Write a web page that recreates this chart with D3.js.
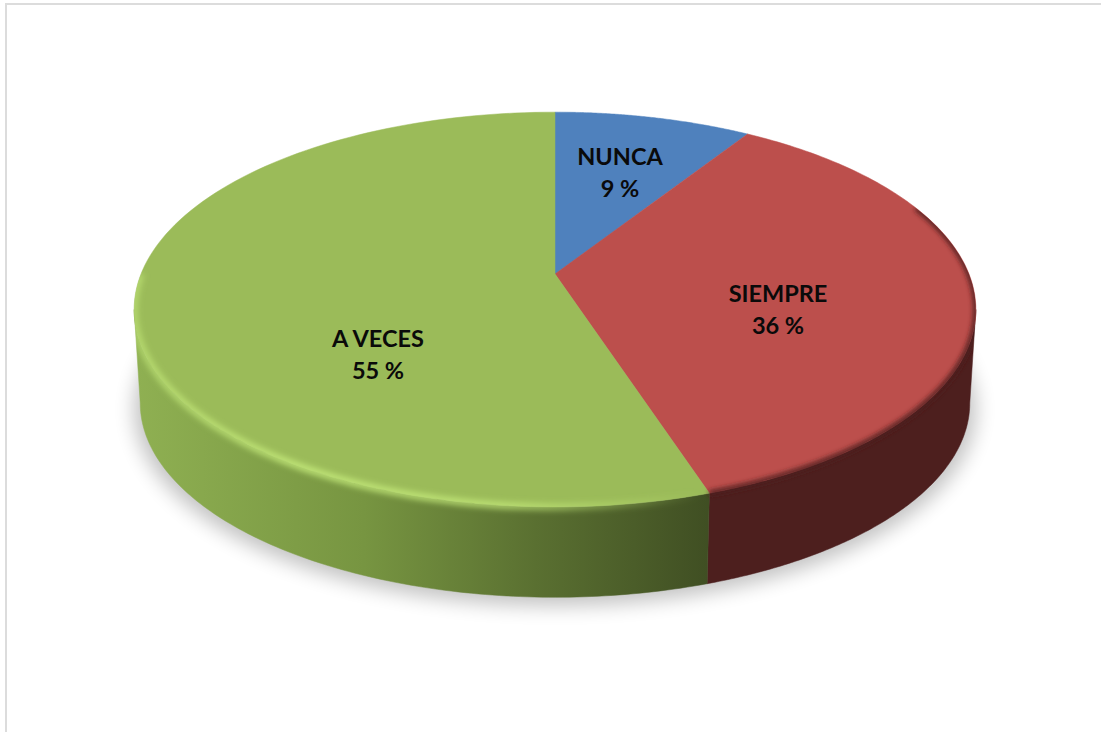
<!DOCTYPE html>
<html lang="es">

<head>
    <meta charset="utf-8">
    <style>
        html, body { margin: 0; background: #fff; overflow: hidden; }
        text { font-family: Lato, 'Open Sans', sans-serif; font-weight: 700; font-size: 23.5px; fill: #0a0a0a; text-anchor: middle; }
    </style>
</head>

<body>
    <script src="https://d3js.org/d3.v7.min.js"></script>
    <script>
        // data
        const categories = ['NUNCA', 'SIEMPRE', 'A VECES'];
        const percents = [9, 36, 55];
        const percentLabels = ['9 %', '36 %', '55 %'];

        // look
        const topColors = ['#4f81bd', '#bc4f4c', '#9bbb59'];
        const labelSpots = [[620, 165], [778, 302], [378, 347]];
        const width = 1101, height = 732;

        const svg = d3.select('body').append('svg')
            .attr('width', width).attr('height', height)
            .style('display', 'block');

        const defs = svg.append('defs');
        [['soft', 2.4], ['softer', 3], ['shadowBlur', 10]].forEach(([id, dev]) => {
            defs.append('filter').attr('id', id)
                .attr('x', '-20%').attr('y', '-20%').attr('width', '140%').attr('height', '140%')
                .append('feGaussianBlur').attr('stdDeviation', dev);
        });

        const wallGreen = defs.append('linearGradient').attr('id', 'wallGreen')
            .attr('gradientUnits', 'userSpaceOnUse')
            .attr('x1', 135).attr('x2', 707).attr('y1', 0).attr('y2', 0);
        [[0, '#8fb052'], [0.4, '#779541'], [0.7, '#5a7031'], [1, '#404f23']].forEach(([o, c]) => {
            wallGreen.append('stop').attr('offset', o).attr('stop-color', c);
        });

        const glowGreen = defs.append('linearGradient').attr('id', 'glowGreen')
            .attr('gradientUnits', 'userSpaceOnUse')
            .attr('x1', 134).attr('x2', 700).attr('y1', 0).attr('y2', 0);
        [[0, 0.7], [0.3, 1], [0.65, 0.9], [1, 0]].forEach(([o, a]) => {
            glowGreen.append('stop').attr('offset', o)
                .attr('stop-color', '#c6ec7c').attr('stop-opacity', a);
        });

        // frame of the chart area
        svg.append('path')
            .attr('d', `M6,${height}V4H${width}`)
            .attr('fill', 'none').attr('stroke', '#dcdcdc').attr('stroke-width', 2);

        // the pie is tilted with a bit of perspective, so the apex is not the ellipse centre
        const tilt = 0.18;
        function rim(cx, cy, scaleX, scaleY) {
            return (a, r = 1) => {
                const u = Math.sin(a) * r, v = -Math.cos(a) * r;
                const w = 1 - tilt * v;
                return [cx + scaleX * u / w, cy + scaleY * v / w];
            };
        }
        const topRim = rim(555, 274, 414, 191);
        const lowRim = rim(555, 368, 408, 188);

        const arcPoints = (proj, a0, a1) => d3.range(0, 121).map(i => proj(a0 + (a1 - a0) * i / 120));
        const line = d3.line();

        const slices = d3.pie().sort(null)(percents);

        // angles where the outline of the tilted disc turns, the wall is seen between them
        const wallFrom = Math.acos(-tilt);
        const wallTo = 2 * Math.PI - wallFrom;

        // floor shadow
        svg.append('path')
            .attr('d', line(arcPoints(rim(555, 374, 414, 190), 0, 2 * Math.PI)) + 'Z')
            .attr('fill', '#000').attr('opacity', 0.24)
            .attr('filter', 'url(#shadowBlur)');

        // side wall
        const wallColors = [null, '#4d1f1e', 'url(#wallGreen)'];
        const wallPath = (a0, a1) => line(arcPoints(topRim, a0, a1).concat(arcPoints(lowRim, a1, a0))) + 'Z';
        slices.forEach((s, i) => {
            const a0 = Math.max(s.startAngle, wallFrom);
            const a1 = Math.min(s.endAngle, wallTo);
            if (a1 <= a0) return;
            svg.append('path')
                .attr('d', wallPath(a0, a1))
                .attr('fill', wallColors[i])
                .attr('stroke', wallColors[i]).attr('stroke-width', 0.5);
        });

        // top faces
        slices.forEach((s, i) => {
            svg.append('path')
                .attr('d', line([topRim(0, 0)].concat(arcPoints(topRim, s.startAngle, s.endAngle))) + 'Z')
                .attr('fill', topColors[i])
                .attr('stroke', topColors[i]).attr('stroke-width', 0.5);
        });

        // bevel along the near edge, kept inside the disc so it does not glow on the white
        const clip = defs.append('clipPath').attr('id', 'discClip');
        clip.append('path').attr('d', line(arcPoints(topRim, 0, 2 * Math.PI)) + 'Z');
        clip.append('path').attr('d', wallPath(wallFrom, wallTo));

        const bevels = [null,
            { color: '#4d1f1e', from: Math.PI * 0.38, to: 2 * Math.PI, w: 5, f: 'soft' },
            { color: 'url(#glowGreen)', from: 0, to: Math.PI * 1.5, w: 6, f: 'softer' }];
        const bevelLayer = svg.append('g').attr('clip-path', 'url(#discClip)');
        slices.forEach((s, i) => {
            const b = bevels[i];
            if (!b) return;
            const a0 = Math.max(s.startAngle, b.from);
            const a1 = Math.min(s.endAngle, b.to);
            bevelLayer.append('path')
                .attr('d', line(arcPoints(topRim, a0, a1)))
                .attr('fill', 'none').attr('stroke', b.color)
                .attr('stroke-width', b.w).attr('filter', `url(#${b.f})`);
        });

        // labels
        categories.forEach((c, i) => {
            const t = svg.append('text').attr('x', labelSpots[i][0]).attr('y', labelSpots[i][1]);
            t.append('tspan').attr('x', labelSpots[i][0]).text(c);
            t.append('tspan').attr('x', labelSpots[i][0]).attr('dy', 32).text(percentLabels[i]);
        });
    </script>
</body>

</html>
